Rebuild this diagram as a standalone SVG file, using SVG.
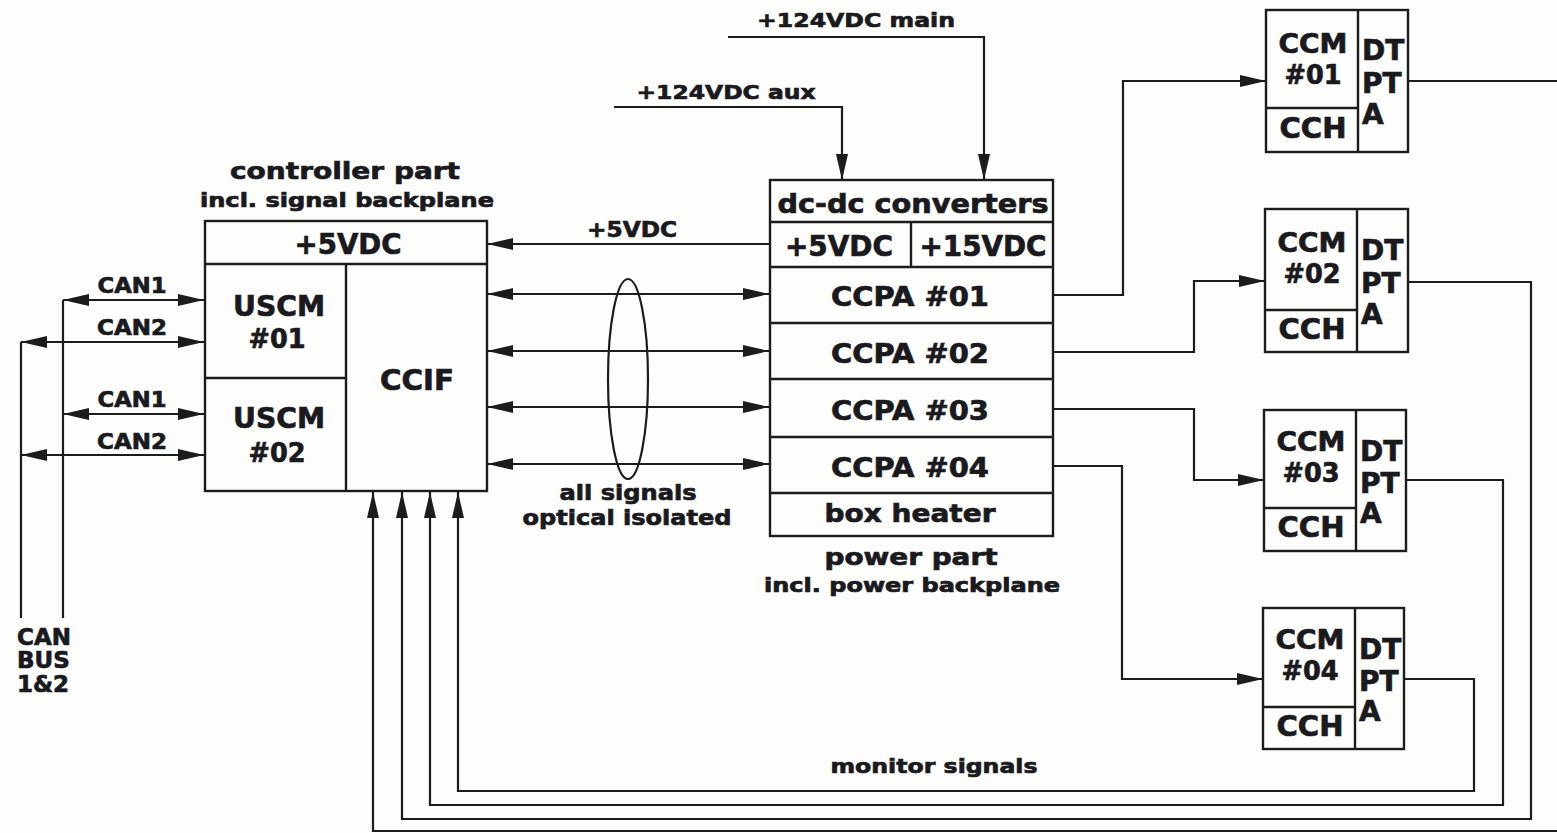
<svg xmlns="http://www.w3.org/2000/svg" width="1557" height="833" viewBox="0 0 1557 833">
<style>
.bx{fill:none;stroke:#1c1c1c;stroke-width:2.4}
.ln{fill:none;stroke:#1c1c1c;stroke-width:2.2}
.t{font-family:"DejaVu Sans","Liberation Sans",sans-serif;font-weight:bold;fill:#1a1a1e;stroke:#1a1a1e;stroke-width:0.7;text-anchor:middle}
.l{text-anchor:start}
</style>
<defs>
<marker id="ah" viewBox="0 0 26 12" refX="26" refY="6" markerWidth="26" markerHeight="12" markerUnits="userSpaceOnUse" orient="auto-start-reverse">
<path d="M0,0 L26,6 L0,12 z" fill="#1c1c1c"/>
</marker>
</defs>
<rect x="0" y="0" width="1557" height="833" fill="#fdfdfb"/>

<g id="connectors">
<path class="ln" d="M63,300 H204" marker-start="url(#ah)" marker-end="url(#ah)"/>
<path class="ln" d="M21,342 H204" marker-start="url(#ah)" marker-end="url(#ah)"/>
<path class="ln" d="M63,414 H204" marker-start="url(#ah)" marker-end="url(#ah)"/>
<path class="ln" d="M21,455 H204" marker-start="url(#ah)" marker-end="url(#ah)"/>
<path class="ln" d="M21,342 V618"/>
<path class="ln" d="M63,300 V618"/>
<path class="ln" d="M770,244 H487" marker-end="url(#ah)"/>
<path class="ln" d="M487,294 H769" marker-start="url(#ah)" marker-end="url(#ah)"/>
<path class="ln" d="M487,351 H769" marker-start="url(#ah)" marker-end="url(#ah)"/>
<path class="ln" d="M487,407 H769" marker-start="url(#ah)" marker-end="url(#ah)"/>
<path class="ln" d="M487,464 H769" marker-start="url(#ah)" marker-end="url(#ah)"/>
<ellipse class="ln" cx="628" cy="379" rx="20" ry="100"/>
<path class="ln" d="M728,37 H984 V180" marker-end="url(#ah)"/>
<path class="ln" d="M614,107 H842 V180" marker-end="url(#ah)"/>
<path class="ln" d="M1053,295 H1123 V81 H1266" marker-end="url(#ah)"/>
<path class="ln" d="M1053,352 H1194 V281 H1265" marker-end="url(#ah)"/>
<path class="ln" d="M1053,409 H1194 V480 H1264" marker-end="url(#ah)"/>
<path class="ln" d="M1053,466 H1122 V679 H1263" marker-end="url(#ah)"/>
<path class="ln" d="M1408,81 H1575 V831 H373 V492" marker-end="url(#ah)"/>
<path class="ln" d="M1408,282 H1531 V819 H402 V492" marker-end="url(#ah)"/>
<path class="ln" d="M1406,480 H1503 V805 H430 V492" marker-end="url(#ah)"/>
<path class="ln" d="M1404,679 H1474 V791 H458 V492" marker-end="url(#ah)"/>
</g>

<g id="labels">
<text class="t" x="132" y="293" font-size="21" textLength="69" lengthAdjust="spacingAndGlyphs">CAN1</text>
<text class="t" x="132" y="335" font-size="21" textLength="70" lengthAdjust="spacingAndGlyphs">CAN2</text>
<text class="t" x="132" y="407" font-size="21" textLength="69" lengthAdjust="spacingAndGlyphs">CAN1</text>
<text class="t" x="132" y="449" font-size="21" textLength="70" lengthAdjust="spacingAndGlyphs">CAN2</text>
<text class="t l" x="17" y="645" font-size="23"><tspan x="17" y="645">CAN</tspan><tspan x="17" y="668">BUS</tspan><tspan x="17" y="692">1&amp;2</tspan></text>
<text class="t" x="632" y="237" font-size="22" textLength="90" lengthAdjust="spacingAndGlyphs">+5VDC</text>
<text class="t" x="856" y="27" font-size="20" textLength="198" lengthAdjust="spacingAndGlyphs">+124VDC main</text>
<text class="t" x="726" y="99" font-size="20" textLength="179" lengthAdjust="spacingAndGlyphs">+124VDC aux</text>
<text class="t" x="628" y="500" font-size="21" textLength="137" lengthAdjust="spacingAndGlyphs">all signals</text>
<text class="t" x="627" y="525" font-size="21" textLength="209" lengthAdjust="spacingAndGlyphs">optical isolated</text>
<text class="t" x="934" y="773" font-size="20" textLength="207" lengthAdjust="spacingAndGlyphs">monitor signals</text>
</g>

<g id="controller">
<text class="t" x="345" y="179" font-size="23" textLength="230" lengthAdjust="spacingAndGlyphs">controller part</text>
<text class="t" x="347" y="207" font-size="19" textLength="294" lengthAdjust="spacingAndGlyphs">incl. signal backplane</text>
<rect class="bx" x="205" y="221" width="282" height="270"/>
<path class="bx" d="M205,264 H487 M346,264 V491 M205,378 H346"/>
<text class="t" x="348" y="254" font-size="28" textLength="107" lengthAdjust="spacingAndGlyphs">+5VDC</text>
<text class="t" x="279" y="316" font-size="28" textLength="92" lengthAdjust="spacingAndGlyphs">USCM</text>
<text class="t" x="277" y="348" font-size="27" textLength="57" lengthAdjust="spacingAndGlyphs">#01</text>
<text class="t" x="279" y="428" font-size="28" textLength="92" lengthAdjust="spacingAndGlyphs">USCM</text>
<text class="t" x="277" y="462" font-size="27" textLength="57" lengthAdjust="spacingAndGlyphs">#02</text>
<text class="t" x="417" y="390" font-size="28" textLength="74" lengthAdjust="spacingAndGlyphs">CCIF</text>
</g>

<g id="power">
<rect class="bx" x="770" y="180" width="283" height="356"/>
<path class="bx" d="M770,222 H1053 M770,267 H1053 M911,222 V267 M770,323 H1053 M770,379 H1053 M770,437 H1053 M770,493 H1053"/>
<text class="t" x="913" y="213" font-size="26" textLength="271" lengthAdjust="spacingAndGlyphs">dc-dc converters</text>
<text class="t" x="839" y="256" font-size="28" textLength="108" lengthAdjust="spacingAndGlyphs">+5VDC</text>
<text class="t" x="983" y="256" font-size="28" textLength="127" lengthAdjust="spacingAndGlyphs">+15VDC</text>
<text class="t" x="910" y="306" font-size="27" textLength="158" lengthAdjust="spacingAndGlyphs">CCPA #01</text>
<text class="t" x="910" y="363" font-size="27" textLength="158" lengthAdjust="spacingAndGlyphs">CCPA #02</text>
<text class="t" x="910" y="420" font-size="27" textLength="158" lengthAdjust="spacingAndGlyphs">CCPA #03</text>
<text class="t" x="910" y="477" font-size="27" textLength="158" lengthAdjust="spacingAndGlyphs">CCPA #04</text>
<text class="t" x="910" y="522" font-size="25" textLength="171" lengthAdjust="spacingAndGlyphs">box heater</text>
<text class="t" x="911" y="565" font-size="23" textLength="173" lengthAdjust="spacingAndGlyphs">power part</text>
<text class="t" x="912" y="592" font-size="19" textLength="296" lengthAdjust="spacingAndGlyphs">incl. power backplane</text>
</g>

<g id="ccm01">
<rect class="bx" x="1266" y="10" width="142" height="142"/>
<path class="bx" d="M1358,10 V152 M1266,108 H1358"/>
<text class="t" x="1313" y="53" font-size="26" textLength="69" lengthAdjust="spacingAndGlyphs">CCM</text>
<text class="t" x="1313" y="84" font-size="26" textLength="57" lengthAdjust="spacingAndGlyphs">#01</text>
<text class="t" x="1313" y="138" font-size="28" textLength="67" lengthAdjust="spacingAndGlyphs">CCH</text>
<text class="t l" font-size="28"><tspan x="1362" y="60">DT</tspan><tspan x="1362" y="93">PT</tspan><tspan x="1362" y="124">A</tspan></text>
</g>

<g id="ccm02">
<rect class="bx" x="1265" y="209" width="143" height="143"/>
<path class="bx" d="M1357,209 V352 M1265,310 H1357"/>
<text class="t" x="1312" y="252" font-size="26" textLength="69" lengthAdjust="spacingAndGlyphs">CCM</text>
<text class="t" x="1312" y="283" font-size="26" textLength="57" lengthAdjust="spacingAndGlyphs">#02</text>
<text class="t" x="1312" y="339" font-size="28" textLength="67" lengthAdjust="spacingAndGlyphs">CCH</text>
<text class="t l" font-size="28"><tspan x="1361" y="260">DT</tspan><tspan x="1361" y="293">PT</tspan><tspan x="1361" y="324">A</tspan></text>
</g>

<g id="ccm03">
<rect class="bx" x="1264" y="410" width="142" height="141"/>
<path class="bx" d="M1356,410 V551 M1264,508 H1356"/>
<text class="t" x="1311" y="451" font-size="26" textLength="69" lengthAdjust="spacingAndGlyphs">CCM</text>
<text class="t" x="1311" y="482" font-size="26" textLength="57" lengthAdjust="spacingAndGlyphs">#03</text>
<text class="t" x="1311" y="537" font-size="28" textLength="67" lengthAdjust="spacingAndGlyphs">CCH</text>
<text class="t l" font-size="28"><tspan x="1360" y="461">DT</tspan><tspan x="1360" y="493">PT</tspan><tspan x="1360" y="523">A</tspan></text>
</g>

<g id="ccm04">
<rect class="bx" x="1263" y="608" width="141" height="141"/>
<path class="bx" d="M1355,608 V749 M1263,707 H1355"/>
<text class="t" x="1310" y="649" font-size="26" textLength="69" lengthAdjust="spacingAndGlyphs">CCM</text>
<text class="t" x="1310" y="680" font-size="26" textLength="57" lengthAdjust="spacingAndGlyphs">#04</text>
<text class="t" x="1310" y="736" font-size="28" textLength="67" lengthAdjust="spacingAndGlyphs">CCH</text>
<text class="t l" font-size="28"><tspan x="1359" y="659">DT</tspan><tspan x="1359" y="691">PT</tspan><tspan x="1359" y="721">A</tspan></text>
</g>
</svg>
